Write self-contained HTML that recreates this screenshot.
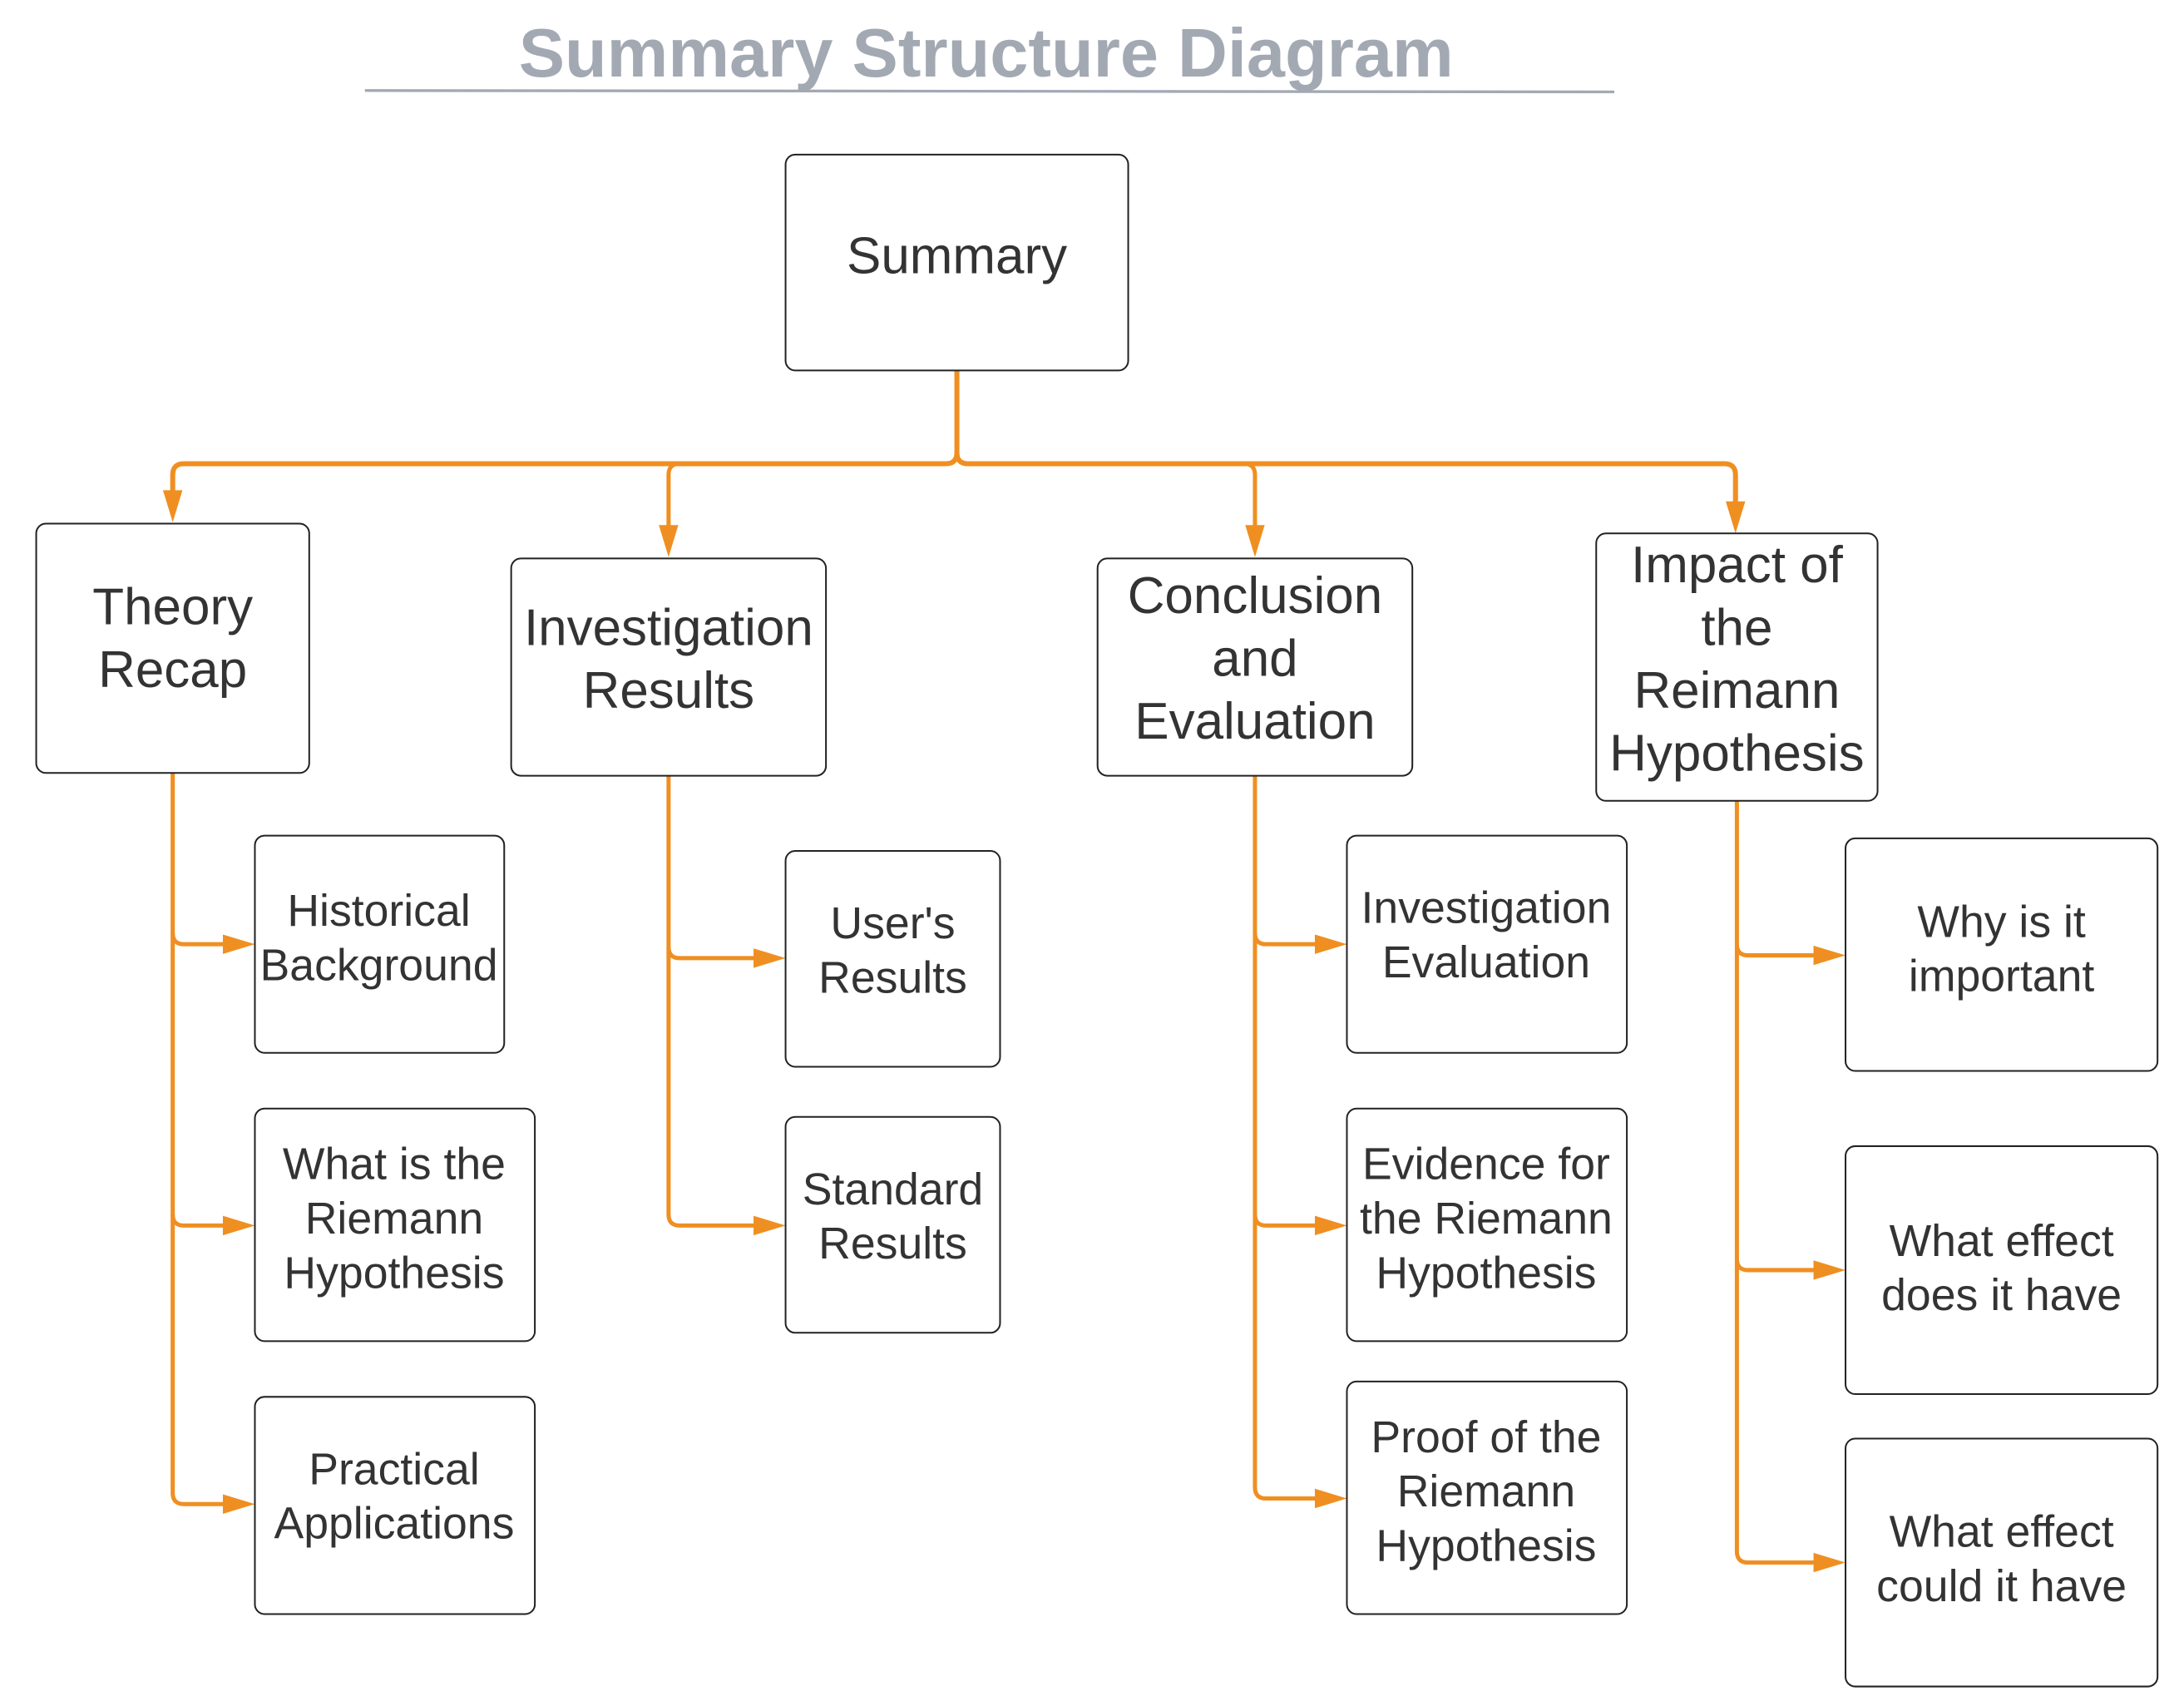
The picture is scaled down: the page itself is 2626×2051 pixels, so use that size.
<!DOCTYPE html>
<html><head><meta charset="utf-8"><style>
html,body{margin:0;padding:0;background:#fff;}
svg{display:block;}
text{font-family:"Liberation Sans",Arial,sans-serif;fill:#333;text-anchor:middle;dominant-baseline:central;}
.b{fill:#fff;stroke:#222;stroke-width:1.2;}
.c{fill:none;stroke:#ef8f22;stroke-width:3;}
.a{fill:#ef8f22;}
.t1{font-size:37px;}
.t2{font-size:32px;}
</style></head><body>
<svg width="2626" height="2051" viewBox="0 0 1568 1225" preserveAspectRatio="none">
<text x="708" y="38" style="font-size:49.5px;font-weight:bold;fill:#a3a9b3">Summary Structure Diagram</text>
<line x1="262" y1="65" x2="1159" y2="66" stroke="#a3a9b3" stroke-width="2"/>

<!-- bus -->
<path class="c" style="stroke-width:3.6" d="M687 266 V325 Q687 333 679 333 H132 Q124 333 124 341 V362"/>
<path class="c" style="stroke-width:3.6" d="M687 325 Q687 333 695 333 H1238 Q1246 333 1246 341 V370"/>
<path class="c" d="M488 333 Q480 333 480 341 V387"/>
<path class="c" d="M893 333 Q901 333 901 341 V387"/>
<polygon class="a" points="117,352 131,352 124,375"/>
<polygon class="a" points="473,377 487,377 480,400"/>
<polygon class="a" points="894,377 908,377 901,400"/>
<polygon class="a" points="1239,360 1253,360 1246,383"/>

<!-- Theory children -->
<path class="c" d="M124 555 V1072 Q124 1080 132 1080 H170"/>
<path class="c" d="M124 670 Q124 678 132 678 H170"/>
<path class="c" d="M124 872 Q124 880 132 880 H170"/>
<polygon class="a" points="160,671 160,685 183,678"/>
<polygon class="a" points="160,873 160,887 183,880"/>
<polygon class="a" points="160,1073 160,1087 183,1080"/>

<!-- Investigation children -->
<path class="c" d="M480 557 V872 Q480 880 488 880 H550"/>
<path class="c" d="M480 680 Q480 688 488 688 H550"/>
<polygon class="a" points="541,681 541,695 564,688"/>
<polygon class="a" points="541,873 541,887 564,880"/>

<!-- Conclusion children -->
<path class="c" d="M901 557 V1068 Q901 1076 909 1076 H953"/>
<path class="c" d="M901 670 Q901 678 909 678 H953"/>
<path class="c" d="M901 872 Q901 880 909 880 H953"/>
<polygon class="a" points="944,671 944,685 967,678"/>
<polygon class="a" points="944,873 944,887 967,880"/>
<polygon class="a" points="944,1069 944,1083 967,1076"/>

<!-- Impact children -->
<path class="c" d="M1247 575 V1114 Q1247 1122 1255 1122 H1311"/>
<path class="c" d="M1247 678 Q1247 686 1255 686 H1311"/>
<path class="c" d="M1247 904 Q1247 912 1255 912 H1311"/>
<polygon class="a" points="1302,679 1302,693 1325,686"/>
<polygon class="a" points="1302,905 1302,919 1325,912"/>
<polygon class="a" points="1302,1115 1302,1129 1325,1122"/>

<!-- boxes -->
<rect class="b" x="564" y="111" width="246" height="155" rx="7"/>
<text class="t1" x="687" y="184">Summary</text>

<rect class="b" x="26" y="376" width="196" height="179" rx="7"/>
<text class="t1" x="124" y="436">Theory</text><text class="t1" x="124" y="481">Recap</text>

<rect class="b" x="367" y="401" width="226" height="156" rx="7"/>
<text class="t1" x="480" y="451">Investigation</text><text class="t1" x="480" y="496">Results</text>

<rect class="b" x="788" y="401" width="226" height="156" rx="7"/>
<text class="t1" x="901" y="428">Conclusion</text><text class="t1" x="901" y="473">and</text><text class="t1" x="901" y="518">Evaluation</text>

<rect class="b" x="1146" y="383" width="202" height="192" rx="7"/>
<text class="t1" x="1247" y="406">Impact of</text><text class="t1" x="1247" y="451">the</text><text class="t1" x="1247" y="496">Reimann</text><text class="t1" x="1247" y="541">Hypothesis</text>

<rect class="b" x="183" y="600" width="179" height="156" rx="7"/>
<text class="t2" x="272" y="654">Historical</text><text class="t2" x="272" y="693">Background</text>

<rect class="b" x="183" y="796" width="201" height="167" rx="7"/>
<text class="t2" x="283" y="836">What is the</text><text class="t2" x="283" y="875">Riemann</text><text class="t2" x="283" y="914">Hypothesis</text>

<rect class="b" x="183" y="1003" width="201" height="156" rx="7"/>
<text class="t2" x="283" y="1055">Practical</text><text class="t2" x="283" y="1094">Applications</text>

<rect class="b" x="564" y="611" width="154" height="155" rx="7"/>
<text class="t2" x="641" y="663">User's</text><text class="t2" x="641" y="702">Results</text>

<rect class="b" x="564" y="802" width="154" height="155" rx="7"/>
<text class="t2" x="641" y="854">Standard</text><text class="t2" x="641" y="893">Results</text>

<rect class="b" x="967" y="600" width="201" height="156" rx="7"/>
<text class="t2" x="1067" y="652">Investigation</text><text class="t2" x="1067" y="691">Evaluation</text>

<rect class="b" x="967" y="796" width="201" height="167" rx="7"/>
<text class="t2" x="1067" y="836">Evidence for</text><text class="t2" x="1067" y="875">the Riemann</text><text class="t2" x="1067" y="914">Hypothesis</text>

<rect class="b" x="967" y="992" width="201" height="167" rx="7"/>
<text class="t2" x="1067" y="1032">Proof of the</text><text class="t2" x="1067" y="1071">Riemann</text><text class="t2" x="1067" y="1110">Hypothesis</text>

<rect class="b" x="1325" y="602" width="224" height="167" rx="7"/>
<text class="t2" x="1437" y="662">Why is it</text><text class="t2" x="1437" y="701">important</text>

<rect class="b" x="1325" y="823" width="224" height="178" rx="7"/>
<text class="t2" x="1437" y="891">What effect</text><text class="t2" x="1437" y="930">does it have</text>

<rect class="b" x="1325" y="1033" width="224" height="178" rx="7"/>
<text class="t2" x="1437" y="1100">What effect</text><text class="t2" x="1437" y="1139">could it have</text>
</svg>
</body></html>
